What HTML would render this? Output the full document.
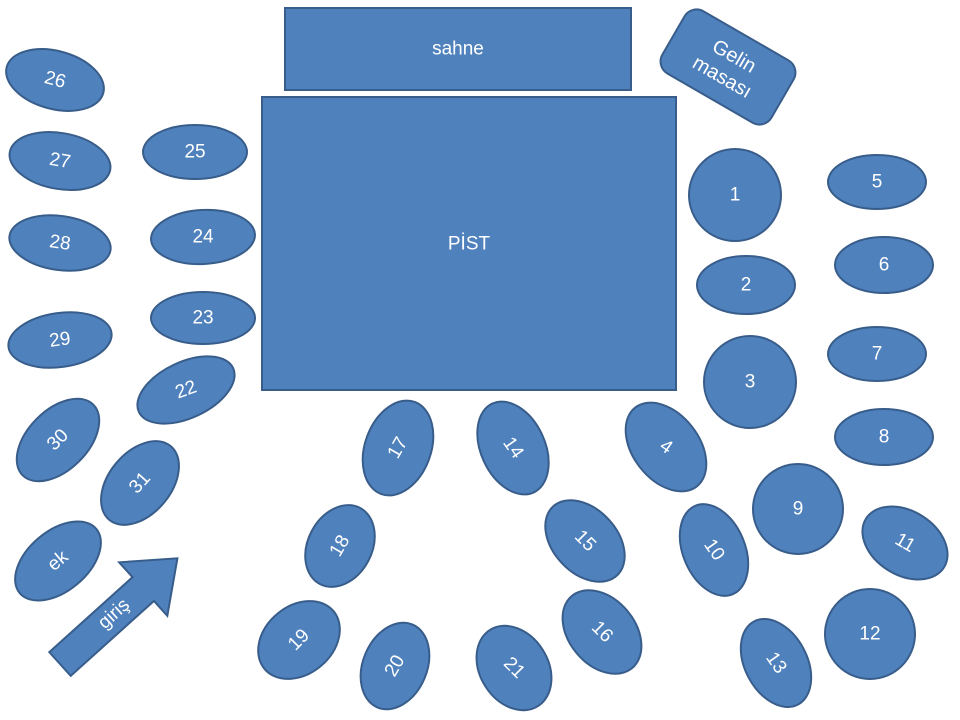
<!DOCTYPE html>
<html><head><meta charset="utf-8"><style>
html,body{margin:0;padding:0;background:#fff;width:960px;height:720px;overflow:hidden}
svg text{font-family:"Liberation Sans",sans-serif;font-size:19px;fill:#fff;text-anchor:middle;dominant-baseline:central;stroke:none}
</style></head><body>
<svg width="960" height="720" viewBox="0 0 960 720" xmlns="http://www.w3.org/2000/svg">
<g fill="#4f81bd" stroke="#385d8a" stroke-width="2">
<rect x="285" y="8" width="346" height="82"/>
<rect x="262" y="97" width="414" height="293"/>
<rect x="665" y="31" width="126" height="72" rx="14" transform="rotate(30 728 67)"/>
<polygon points="0,-16 112,-16 112,-36 158,0 112,36 112,16 0,16" transform="translate(60,664) rotate(-42)"/>
<ellipse cx="55" cy="80" rx="50" ry="29" transform="rotate(15 55 80)"/>
<ellipse cx="60" cy="161" rx="51" ry="28" transform="rotate(10 60 161)"/>
<ellipse cx="60" cy="243" rx="51" ry="27" transform="rotate(8 60 243)"/>
<ellipse cx="60" cy="340" rx="52" ry="27" transform="rotate(-8 60 340)"/>
<ellipse cx="58" cy="440" rx="50" ry="30" transform="rotate(-45 58 440)"/>
<ellipse cx="140" cy="483" rx="48" ry="31" transform="rotate(-50 140 483)"/>
<ellipse cx="58" cy="561" rx="50" ry="30" transform="rotate(-40 58 561)"/>
<ellipse cx="195" cy="152" rx="52" ry="27"/>
<ellipse cx="203" cy="237" rx="52" ry="27" transform="rotate(-3 203 237)"/>
<ellipse cx="203" cy="318" rx="52" ry="26"/>
<ellipse cx="186" cy="390" rx="52" ry="28" transform="rotate(-25 186 390)"/>
<ellipse cx="398" cy="448" rx="49" ry="33" transform="rotate(-70 398 448)"/>
<ellipse cx="513" cy="448" rx="49" ry="32" transform="rotate(65 513 448)"/>
<ellipse cx="666" cy="447" rx="50" ry="33" transform="rotate(52 666 447)"/>
<ellipse cx="340" cy="546" rx="43" ry="32" transform="rotate(-62 340 546)"/>
<ellipse cx="585" cy="541" rx="47" ry="32" transform="rotate(47 585 541)"/>
<ellipse cx="714" cy="550" rx="48" ry="31" transform="rotate(67 714 550)"/>
<ellipse cx="299" cy="640" rx="45" ry="34" transform="rotate(-40 299 640)"/>
<ellipse cx="395" cy="666" rx="45" ry="32" transform="rotate(-67 395 666)"/>
<ellipse cx="514" cy="668" rx="45" ry="34" transform="rotate(58 514 668)"/>
<ellipse cx="602" cy="632" rx="47" ry="33" transform="rotate(50 602 632)"/>
<ellipse cx="776" cy="663" rx="47" ry="31" transform="rotate(62 776 663)"/>
<circle cx="735" cy="195" r="46"/>
<ellipse cx="746" cy="285" rx="49" ry="29"/>
<circle cx="750" cy="382" r="46"/>
<circle cx="798" cy="509" r="45"/>
<circle cx="870" cy="634" r="45"/>
<ellipse cx="877" cy="182" rx="49" ry="27"/>
<ellipse cx="884" cy="265" rx="49" ry="28"/>
<ellipse cx="877" cy="354" rx="49" ry="27"/>
<ellipse cx="884" cy="437" rx="49" ry="28"/>
<ellipse cx="905" cy="543" rx="46" ry="32" transform="rotate(32 905 543)"/>
</g>
<text x="458" y="49">sahne</text>
<text x="469" y="244">PİST</text>
<g transform="translate(728,67) rotate(30)"><text x="0" y="-12" style="font-size:20px">Gelin</text><text x="0" y="12" style="font-size:20px">masası</text></g>
<text transform="translate(114,614) rotate(-42)">giriş</text>
<text transform="translate(55,80) rotate(15)">26</text>
<text transform="translate(60,161) rotate(10)">27</text>
<text transform="translate(60,243) rotate(8)">28</text>
<text transform="translate(60,340) rotate(-8)">29</text>
<text transform="translate(58,440) rotate(-45)">30</text>
<text transform="translate(140,483) rotate(-48)">31</text>
<text transform="translate(58,561) rotate(-40)">ek</text>
<text transform="translate(195,152)">25</text>
<text transform="translate(203,237)">24</text>
<text transform="translate(203,318)">23</text>
<text transform="translate(186,390) rotate(-20)">22</text>
<text transform="translate(398,448) rotate(-60)">17</text>
<text transform="translate(513,448) rotate(55)">14</text>
<text transform="translate(666,447) rotate(35)">4</text>
<text transform="translate(340,546) rotate(-60)">18</text>
<text transform="translate(585,541) rotate(45)">15</text>
<text transform="translate(714,550) rotate(55)">10</text>
<text transform="translate(299,640) rotate(-45)">19</text>
<text transform="translate(395,666) rotate(-60)">20</text>
<text transform="translate(514,668) rotate(45)">21</text>
<text transform="translate(602,632) rotate(45)">16</text>
<text transform="translate(776,663) rotate(55)">13</text>
<text x="735" y="195">1</text>
<text x="746" y="285">2</text>
<text x="750" y="382">3</text>
<text x="798" y="509">9</text>
<text x="870" y="634">12</text>
<text x="877" y="182">5</text>
<text x="884" y="265">6</text>
<text x="877" y="354">7</text>
<text x="884" y="437">8</text>
<text transform="translate(905,543) rotate(30)">11</text>
</svg>
</body></html>
